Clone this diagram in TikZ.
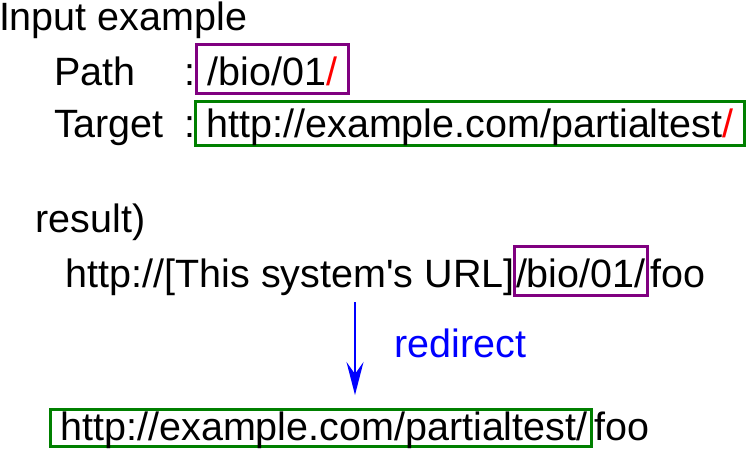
\documentclass[tikz,border=0pt]{standalone}
\usepackage{fontspec}
\setmainfont{Liberation Sans}[Ligatures=TeXOff]
\usepackage{xcolor}
\usetikzlibrary{positioning,arrows.meta}
\definecolor{plum}{HTML}{800080}
\definecolor{leaf}{HTML}{008000}
\definecolor{slash}{HTML}{FF0000}
\definecolor{link}{HTML}{0000FF}

\begin{document}
\begin{tikzpicture}[x=1pt,y=1pt,
  font=\fontsize{39.5}{44}\selectfont,
  txt/.style={inner sep=0pt,outer sep=0pt,anchor=base west},
  frame/.style={txt,draw,line width=3pt,inner ysep=0pt},
  pbox/.style={frame,draw=plum,text height=40.5pt,text depth=8.5pt},
  gbox/.style={frame,draw=leaf},
  a/.style={-{Stealth[length=33pt,width=17pt,inset=12pt]},draw=link,line width=1.6pt}]
\useasboundingbox (0,0) rectangle (747,-451);
\node[txt] (title) at (-1,-30) {Input example};
\node[txt] (pathlbl) at (54,-85) {Path};
\node[txt] (pathcol) at (184,-85) {:};
\node[pbox,inner xsep=11pt] (pathbox) at (196.5,-85) {/bio/01\textcolor{slash}{/}};
\node[txt] (tgtlbl) at (54,-137) {Target};
\node[txt] (tgtcol) at (184,-137) {:};
\node[gbox,inner xsep=11pt,text height=35.5pt,text depth=8.5pt] (tgtbox) at (195.5,-137)
  {http://example.com/partialtest\textcolor{slash}{/}};
\node[txt] (result) at (35.5,-232) {result)};
\node[pbox,inner xsep=1.5pt] (srcbox) at (514.5,-287) {/bio/01/};
\node[txt,anchor=base east,base left=0pt of srcbox] (srcurl) {http://[This system's URL]};
\node[txt,base right=3pt of srcbox] (srcfoo) {foo};
\coordinate (redirtop) at (355,-302);
\coordinate (redirend) at (355,-395);
\draw[a] (redirtop) -- (redirend);
\node[txt,text=link] (redirlbl) at (394.5,-357) {redirect};
\node[gbox,inner xsep=4pt,text height=30.5pt,text depth=6pt] (dstbox) at (50.5,-440)
  {\hspace{6pt}http://example.com/partialtest/};
\node[txt,base right=3pt of dstbox] (dstfoo) {foo};
\end{tikzpicture}
\end{document}
